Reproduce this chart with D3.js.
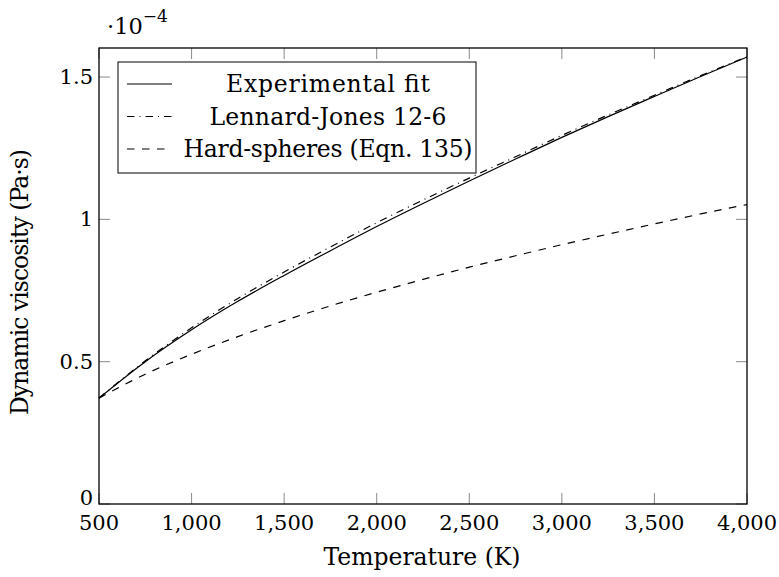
<!DOCTYPE html>
<html>
<head>
<meta charset="utf-8">
<script src="https://cdn.jsdelivr.net/npm/d3@7"></script>
<style>
  html, body { margin: 0; padding: 0; background: #fff; }
</style>
</head>
<body>
<svg id="chart" width="779" height="577"></svg>
<script>
// Temperature samples (K)
const temperature = [500, 750, 1000, 1250, 1500, 1750, 2000, 2250, 2500, 2750, 3000, 3250, 3500, 3750, 4000];
// Dynamic viscosity in units of 1e-4 Pa·s
const experimentalFit = [0.372, 0.500, 0.612, 0.712, 0.803, 0.890, 0.975, 1.056, 1.135, 1.212, 1.288, 1.361, 1.432, 1.502, 1.570];
const lennardJones    = [0.372, 0.503, 0.619, 0.722, 0.815, 0.903, 0.988, 1.068, 1.145, 1.220, 1.295, 1.367, 1.436, 1.505, 1.571];
const hardSpheres     = [0.372, 0.456, 0.526, 0.588, 0.644, 0.696, 0.744, 0.789, 0.832, 0.872, 0.911, 0.948, 0.984, 1.019, 1.052];

const xTicks = [500, 1000, 1500, 2000, 2500, 3000, 3500, 4000];
const yTicks = [0, 0.5, 1, 1.5];
const yTickLabels = ["0", "0.5", "1", "1.5"];

const seriesNames = ["Experimental fit", "Lennard-Jones 12-6", "Hard-spheres (Eqn. 135)"];
const seriesValues = [experimentalFit, lennardJones, hardSpheres];
const seriesDash = [null, "7.5,5,1,5", "7.5,7.5"];

const svg = d3.select("#chart");
const plotL = 99, plotR = 747, plotT = 48, plotB = 504;
const fontFamily = "'DejaVu Serif', 'Liberation Serif', serif";
const numSize = 21;
const textSize = 23.5;
const tickLen = 11;

svg.attr("font-family", fontFamily);

const x = d3.scaleLinear().domain([500, 4000]).range([plotL, plotR]);
const y = d3.scaleLinear().domain([0, 1.602]).range([plotB, plotT]);

// Inward tick marks on all four sides
const tickG = svg.append("g").attr("stroke", "#8a8a8a").attr("stroke-width", 1);
xTicks.forEach(t => {
  tickG.append("line").attr("x1", x(t)).attr("x2", x(t)).attr("y1", plotB).attr("y2", plotB - tickLen);
  tickG.append("line").attr("x1", x(t)).attr("x2", x(t)).attr("y1", plotT).attr("y2", plotT + tickLen);
});
yTicks.forEach(t => {
  tickG.append("line").attr("x1", plotL).attr("x2", plotL + tickLen).attr("y1", y(t)).attr("y2", y(t));
  tickG.append("line").attr("x1", plotR).attr("x2", plotR - tickLen).attr("y1", y(t)).attr("y2", y(t));
});

// Curves
const line = d3.line()
  .x((d, i) => x(temperature[i]))
  .y(d => y(d))
  .curve(d3.curveMonotoneX);

seriesValues.forEach((vals, k) => {
  svg.append("path")
    .datum(vals)
    .attr("d", line)
    .attr("fill", "none")
    .attr("stroke", "#000")
    .attr("stroke-width", 1.2)
    .attr("stroke-dasharray", seriesDash[k]);
});

// Frame
svg.append("rect")
  .attr("x", plotL).attr("y", plotT)
  .attr("width", plotR - plotL).attr("height", plotB - plotT)
  .attr("fill", "none").attr("stroke", "#000").attr("stroke-width", 1.3);

// X tick labels
const fmt = d3.format(",");
svg.append("g").selectAll("text").data(xTicks).join("text")
  .attr("x", d => x(d)).attr("y", plotB + 26)
  .attr("text-anchor", "middle")
  .attr("font-size", numSize)
  .text(d => fmt(d));

// Y tick labels (the zero label sits a little higher to clear the x labels)
svg.append("g").selectAll("text").data(yTicks).join("text")
  .attr("x", plotL - 6).attr("y", d => y(d) + (d === 0 ? 1 : 7))
  .attr("text-anchor", "end")
  .attr("font-size", numSize)
  .text((d, i) => yTickLabels[i]);

// Scale multiplier
const mult = svg.append("text").attr("x", 107).attr("y", 34).attr("font-size", 22.5);
mult.append("tspan").text("·10");
mult.append("tspan").attr("dy", -12).attr("font-size", 17).text("−4");

// Axis titles
svg.append("text")
  .attr("x", 422).attr("y", 565)
  .attr("text-anchor", "middle").attr("font-size", textSize)
  .attr("textLength", 197).attr("lengthAdjust", "spacing")
  .text("Temperature (K)");

svg.append("text")
  .attr("transform", `translate(28,282) rotate(-90)`)
  .attr("text-anchor", "middle").attr("font-size", textSize)
  .attr("textLength", 266).attr("lengthAdjust", "spacing")
  .text("Dynamic viscosity (Pa·s)");

// Legend
const legendWidths = [204, 237, 289];
const lg = svg.append("g");
lg.append("rect")
  .attr("x", 118).attr("y", 62).attr("width", 358).attr("height", 111)
  .attr("fill", "#fff").attr("stroke", "#000").attr("stroke-width", 1);
seriesNames.forEach((name, k) => {
  const ry = 84 + k * 32.5;
  lg.append("line")
    .attr("x1", 127).attr("x2", 172).attr("y1", ry).attr("y2", ry)
    .attr("stroke", "#000").attr("stroke-width", 1.2)
    .attr("stroke-dasharray", seriesDash[k]);
  lg.append("text")
    .attr("x", 328).attr("y", ry + 8)
    .attr("text-anchor", "middle").attr("font-size", textSize)
    .attr("textLength", legendWidths[k]).attr("lengthAdjust", "spacing")
    .text(name);
});
</script>
</body>
</html>
